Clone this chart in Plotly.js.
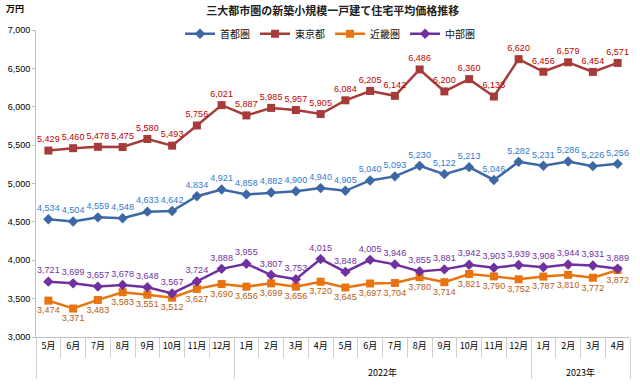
<!DOCTYPE html>
<html>
<head>
<meta charset="utf-8">
<script src="https://cdn.plot.ly/plotly-3.0.1.min.js"></script>
<style>html,body{margin:0;padding:0;background:#fff;}#chart{width:640px;height:387px;}</style>
</head>
<body>
<div id="chart"></div>
<script>
const years = [" "," "," "," "," "," "," "," ",
  "2022年","2022年","2022年","2022年","2022年","2022年","2022年","2022年","2022年","2022年","2022年","2022年",
  "2023年","2023年","2023年","2023年"];
const months = ["5月","6月","7月","8月","9月","10月","11月","12月",
  "1月","2月","3月","4月","5月","6月","7月","8月","9月","10月","11月","12月",
  "1月","2月","3月","4月"];
const shutoken = [4534,4504,4559,4548,4633,4642,4834,4921,4858,4882,4900,4940,4905,5040,5093,5230,5122,5213,5046,5282,5231,5286,5226,5256];
const tokyo = [5429,5460,5478,5475,5580,5493,5756,6021,5887,5985,5957,5905,6084,6205,6142,6486,6200,6360,6133,6620,6456,6579,6454,6571];
const kinki = [3474,3371,3483,3583,3551,3512,3627,3690,3656,3699,3656,3720,3645,3697,3704,3780,3714,3821,3790,3752,3787,3810,3772,3872];
const chubu = [3721,3699,3657,3678,3648,3567,3724,3888,3955,3807,3753,4015,3848,4005,3946,3855,3881,3942,3903,3939,3908,3944,3931,3889];

// make inner category strings unique per year group (zero-width suffix) so order is kept
const groupNames = [...new Set(years)];
const innerKeys = months.map((m, i) => m + "\u200b".repeat(groupNames.indexOf(years[i])));
// push the year row a bit lower, like the reference
const outerKeys = years.map(y => y.trim() ? "<br>" + y : y);
const x = [outerKeys, innerKeys];
const lblFont = (c) => ({family: "Liberation Sans, Arial, sans-serif", size: 9, color: c});

function series(name, y, lineColor, textColor, symbol, msize, pos) {
  return {
    type: "scatter", mode: "lines+markers+text", name: name, x: x, y: y,
    line: {color: lineColor, width: 2.5},
    marker: {symbol: symbol, size: msize, color: lineColor},
    texttemplate: "%{y:,}", textposition: pos, textfont: lblFont(textColor),
    cliponaxis: false
  };
}

const data = [
  series("首都圏", shutoken, "#3D68A5", "#2F7AD0", "diamond", 8, "top center"),
  series("東京都", tokyo, "#A63C3A", "#C00000", "square", 8, "top center"),
  series("近畿圏", kinki, "#E8730F", "#B85A12", "square", 8, "bottom center"),
  series("中部圏", chubu, "#7030A0", "#7030A0", "diamond", 8, "top center")
];

const layout = {
  width: 640, height: 387,
  margin: {l: 36, r: 10, t: 30, b: 50},
  paper_bgcolor: "#fff", plot_bgcolor: "#fff",
  font: {family: "Noto Sans CJK JP, sans-serif", size: 10, color: "#000"},
  title: {text: "<b>三大都市圏の新築小規模一戸建て住宅平均価格推移</b>", x: 0.52, xanchor: "center", y: 0.972, yanchor: "middle",
    font: {family: "Noto Sans CJK JP, sans-serif", size: 11, color: "#222"}},
  showlegend: true,
  legend: {orientation: "h", x: 0.495, xanchor: "center", y: 1.035, yanchor: "top",
    font: {family: "Noto Sans CJK JP, sans-serif", size: 10, color: "#111"}, bgcolor: "rgba(0,0,0,0)",
    itemwidth: 30, tracegroupgap: 0},
  xaxis: {
    type: "multicategory", range: [-0.5, 23.5], autorange: false, automargin: false,
    showline: true, linecolor: "#BFBFBF", linewidth: 1,
    ticks: "outside", ticklen: 20, tickcolor: "#D0D0D0", tickson: "boundaries",
    showdividers: true, dividercolor: "#D0D0D0", dividerwidth: 1,
    showgrid: false, zeroline: false, tickangle: 0,
    tickfont: {family: "Noto Sans CJK JP, sans-serif", size: 9, color: "#000"}
  },
  yaxis: {
    range: [3000, 7000], dtick: 500, tickformat: ",d",
    showline: true, linecolor: "#BFBFBF", linewidth: 1,
    ticks: "outside", ticklen: 3, tickcolor: "#BFBFBF",
    showgrid: false, zeroline: false,
    tickfont: {family: "Liberation Sans, Arial, sans-serif", size: 9, color: "#000"}
  },
  annotations: [
    {text: "<b>万円</b>", xref: "paper", yref: "paper", x: -0.035, y: 1.07, xanchor: "center", yanchor: "middle",
     showarrow: false, font: {family: "Noto Sans CJK JP, sans-serif", size: 9, color: "#000"}}
  ]
};

Plotly.newPlot("chart", data, layout, {displayModeBar: false, staticPlot: true});
</script>
</body>
</html>
